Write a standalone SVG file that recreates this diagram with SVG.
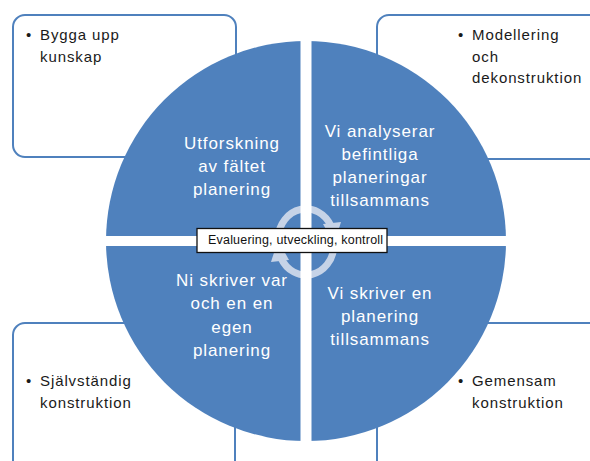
<svg xmlns="http://www.w3.org/2000/svg" width="590" height="461" viewBox="0 0 590 461">
<style>
.box{fill:#fff;stroke:#4f81bd;stroke-width:2}
.bt{font-family:"Liberation Sans",Arial,sans-serif;font-size:15px;letter-spacing:0.9px;fill:#1a1a1a}
.qt{font-family:"Liberation Sans",Arial,sans-serif;font-size:17px;letter-spacing:0.9px;fill:#fff;text-anchor:middle}
.ring{fill:none;stroke:#c6d3e7;stroke-width:7}
.head{fill:#c6d3e7}
</style>
<rect width="590" height="461" fill="#fff"/>
<g id="box-tl">
<rect class="box" x="13" y="15" width="223" height="142" rx="12"/>
<text class="bt" x="26" y="40">•</text>
<text class="bt" x="40" y="40">Bygga upp</text>
<text class="bt" x="40" y="62">kunskap</text>
</g>
<g id="box-tr">
<rect class="box" x="377" y="15" width="240" height="144" rx="12"/>
<text class="bt" x="458" y="40">•</text>
<text class="bt" x="472" y="40">Modellering</text>
<text class="bt" x="472" y="61.5">och</text>
<text class="bt" x="472" y="83">dekonstruktion</text>
</g>
<g id="box-bl">
<rect class="box" x="13" y="323" width="222" height="160" rx="12"/>
<text class="bt" x="26" y="386">•</text>
<text class="bt" x="40" y="386">Självständig</text>
<text class="bt" x="40" y="408">konstruktion</text>
</g>
<g id="box-br">
<rect class="box" x="377" y="323" width="240" height="160" rx="12"/>
<text class="bt" x="458" y="386">•</text>
<text class="bt" x="472" y="386">Gemensam</text>
<text class="bt" x="472" y="408">konstruktion</text>
</g>
<g id="circle">
<circle cx="306" cy="241" r="200" fill="#4f81bd"/>
</g>
<g id="cycle-arrows">
<path class="ring" d="M278,238 A28,31 0 0 1 331,226"/>
<polygon class="head" points="323,224 341,222 334,244"/>
<path class="ring" d="M334,246 A28,31 0 0 1 281,258"/>
<polygon class="head" points="289,260 271,262 278,240"/>
</g>
<g id="gaps">
<rect x="300.5" y="30" width="11" height="425" fill="#fff"/>
<rect x="95" y="236" width="422" height="10" fill="#fff"/>
</g>
<g id="q-tl">
<text class="qt" x="232" y="149">Utforskning</text>
<text class="qt" x="232" y="172">av fältet</text>
<text class="qt" x="232" y="194.5">planering</text>
</g>
<g id="q-tr">
<text class="qt" x="380" y="136.5">Vi analyserar</text>
<text class="qt" x="380" y="159.5">befintliga</text>
<text class="qt" x="380" y="183">planeringar</text>
<text class="qt" x="380" y="206">tillsammans</text>
</g>
<g id="q-bl">
<text class="qt" x="232" y="285.5">Ni skriver var</text>
<text class="qt" x="232" y="309">och en en</text>
<text class="qt" x="232" y="332.5">egen</text>
<text class="qt" x="232" y="355.5">planering</text>
</g>
<g id="q-br">
<text class="qt" x="380" y="299">Vi skriver en</text>
<text class="qt" x="380" y="322">planering</text>
<text class="qt" x="380" y="344.5">tillsammans</text>
</g>
<g id="label">
<rect x="197" y="228.5" width="190" height="24" fill="#fff" stroke="#111" stroke-width="1.3"/>
<text x="208" y="244" font-family="'Liberation Sans',Arial,sans-serif" font-size="12.5" letter-spacing="0.2" fill="#111">Evaluering, utveckling, kontroll</text>
</g>
</svg>
